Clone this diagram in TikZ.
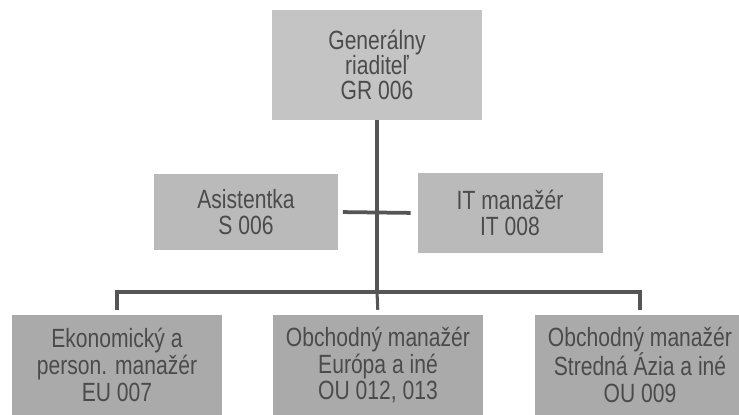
\documentclass[tikz,border=0pt]{standalone}
\usepackage{fontspec}
\setmainfont{Liberation Sans}[FakeStretch=0.8]
\usepackage{tikz}
\usetikzlibrary{positioning, calc}
\usepackage{xcolor}
\definecolor{cTop}{RGB}{196,196,196}
\definecolor{cMid}{RGB}{186,186,186}
\definecolor{cLow}{RGB}{170,170,170}
\definecolor{cInk}{RGB}{75,75,75}
\definecolor{cLine}{RGB}{85,85,85}
\tikzset{
  basebox/.style={rectangle, inner sep=0pt, align=center, text=cInk,
                  font=\fontsize{22.5}{21.5}\selectfont},
  topnode/.style={basebox, fill=cTop, minimum width=6.3cm, minimum height=3.3cm},
  staffnode/.style={basebox, fill=cMid, minimum width=5.5cm, minimum height=2.3cm},
  deptnode/.style={basebox, fill=cLow, minimum width=6.3cm, minimum height=3.0cm,
                   font=\fontsize{22.5}{23}\selectfont},
  link/.style={line width=3.2pt, color=cLine},
  buslink/.style={line width=2.6pt, color=cLine}
}
\begin{document}
\begin{tikzpicture}[x=0.03cm, y=-0.03cm]

  \fill[white] (0,0) rectangle (739,414);
  \useasboundingbox (0,0) rectangle (739,414);

  % Head of the company
  \node[topnode] (gr) at (377,65) {Generálny\\riaditeľ\\GR 006};

  % Staff positions
  \node[staffnode, minimum width=5.5cm] (asist) at (246,212) {Asistentka\\S 006};
  \node[staffnode, minimum width=5.55cm, minimum height=2.4cm] (it) at (510,213)
      {IT manažér\\IT 008};

  % Departments
  \node[deptnode] (eu) at (117,365) {Ekonomický a\\person. manažér\\EU 007};
  \node[deptnode] (ou1) at (378,365) {Obchodný manažér\\Európa a iné\\OU 012, 013};
  \node[deptnode] (ou2) at (640,365) {Obchodný manažér\\Stredná Ázia a iné\\OU 009};

  \coordinate (bus) at (377,292);

  \draw[link] (gr.south) -- (bus);
  \draw[link, shorten <=0.15cm, shorten >=0.2cm] (asist.east) -- (it.west);
  \draw[buslink, shorten <=0.15cm] (eu.north) |- (bus);
  \draw[buslink, shorten >=0.15cm] (bus) -| (ou2.north);
  \draw[buslink, shorten >=0.15cm] (bus) -- (ou1.north);

\end{tikzpicture}
\end{document}
